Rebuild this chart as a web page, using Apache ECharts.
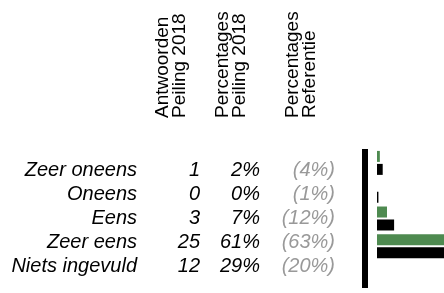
<!DOCTYPE html>
<html>
<head>
<meta charset="utf-8">
<script src="https://cdn.jsdelivr.net/npm/echarts@6/dist/echarts.min.js"></script>
<style>
  html, body { margin: 0; padding: 0; background: #fff; }
  #chart { width: 444px; height: 293px; }
</style>
</head>
<body>
<div id="chart"></div>
<script>
// table rows
const categories = ['Zeer oneens', 'Oneens', 'Eens', 'Zeer eens', 'Niets ingevuld'];
const answers2018 = [1, 0, 3, 25, 12];
const pct2018 = [2, 0, 7, 61, 29];
const pctRef = [4, 1, 12, 63, 20];
const headers = ['Antwoorden\nPeiling 2018', 'Percentages\nPeiling 2018', 'Percentages\nReferentie'];
// rows that get a bar (Niets ingevuld has none)
const barRows = ['Zeer oneens', 'Oneens', 'Eens', 'Zeer eens'];

const green = '#4e8a50';
const font = 'Liberation Sans, Arial, sans-serif';

const chart = echarts.init(document.getElementById('chart'));

function colAxis(offset, fmt, color) {
    return {
        type: 'category',
        gridIndex: 1,
        data: categories,
        inverse: true,
        position: 'left',
        offset: offset,
        axisLine: { show: false },
        axisTick: { show: false },
        splitLine: { show: false },
        axisLabel: {
            interval: 0,
            margin: 0,
            fontFamily: font,
            fontStyle: 'italic',
            fontSize: 20,
            color: color,
            formatter: fmt
        }
    };
}

function idx(v) { return categories.indexOf(v); }

const barData = function (arr) {
    return categories.map((c, i) => barRows.indexOf(c) >= 0 ? arr[i] : '-');
};

const option = {
    animation: false,
    grid: [
        // bars run past the right edge of the picture
        { left: 377, top: 149, width: 67, height: 139 },
        { left: 340, top: 158, width: 1, height: 121 }
    ],
    xAxis: [
        { type: 'value', gridIndex: 0, min: 0, max: 47, show: false },
        { type: 'value', gridIndex: 1, show: false }
    ],
    yAxis: [
        {
            type: 'category',
            gridIndex: 0,
            data: categories,
            inverse: true,
            position: 'left',
            offset: 12,
            axisLine: { show: true, onZero: false, lineStyle: { color: '#000', width: 6, cap: 'butt' } },
            axisTick: { show: false },
            axisLabel: { show: false }
        },
        colAxis(203, v => v, '#000'),
        colAxis(140, v => String(answers2018[idx(v)]), '#000'),
        colAxis(80, v => pct2018[idx(v)] + '%', '#000'),
        colAxis(5, v => '(' + pctRef[idx(v)] + '%)', '#999')
    ],
    series: [
        {
            name: 'Percentages Peiling 2018',
            type: 'bar',
            xAxisIndex: 0,
            yAxisIndex: 0,
            data: barData(pct2018),
            barWidth: 11,
            barGap: '18%',
            itemStyle: { color: green }
        },
        {
            name: 'Percentages Referentie',
            type: 'bar',
            xAxisIndex: 0,
            yAxisIndex: 0,
            data: barData(pctRef),
            barWidth: 11,
            itemStyle: { color: '#000' }
        }
    ],
    graphic: headers.map((h, i) => ({
        type: 'text',
        x: [154, 214, 284][i],
        y: 118,
        rotation: Math.PI / 2,
        style: {
            text: h,
            fontFamily: font,
            fontSize: 19,
            lineHeight: 17,
            fill: '#000',
            textAlign: 'left',
            textVerticalAlign: 'top'
        }
    }))
};

chart.setOption(option);
</script>
</body>
</html>
